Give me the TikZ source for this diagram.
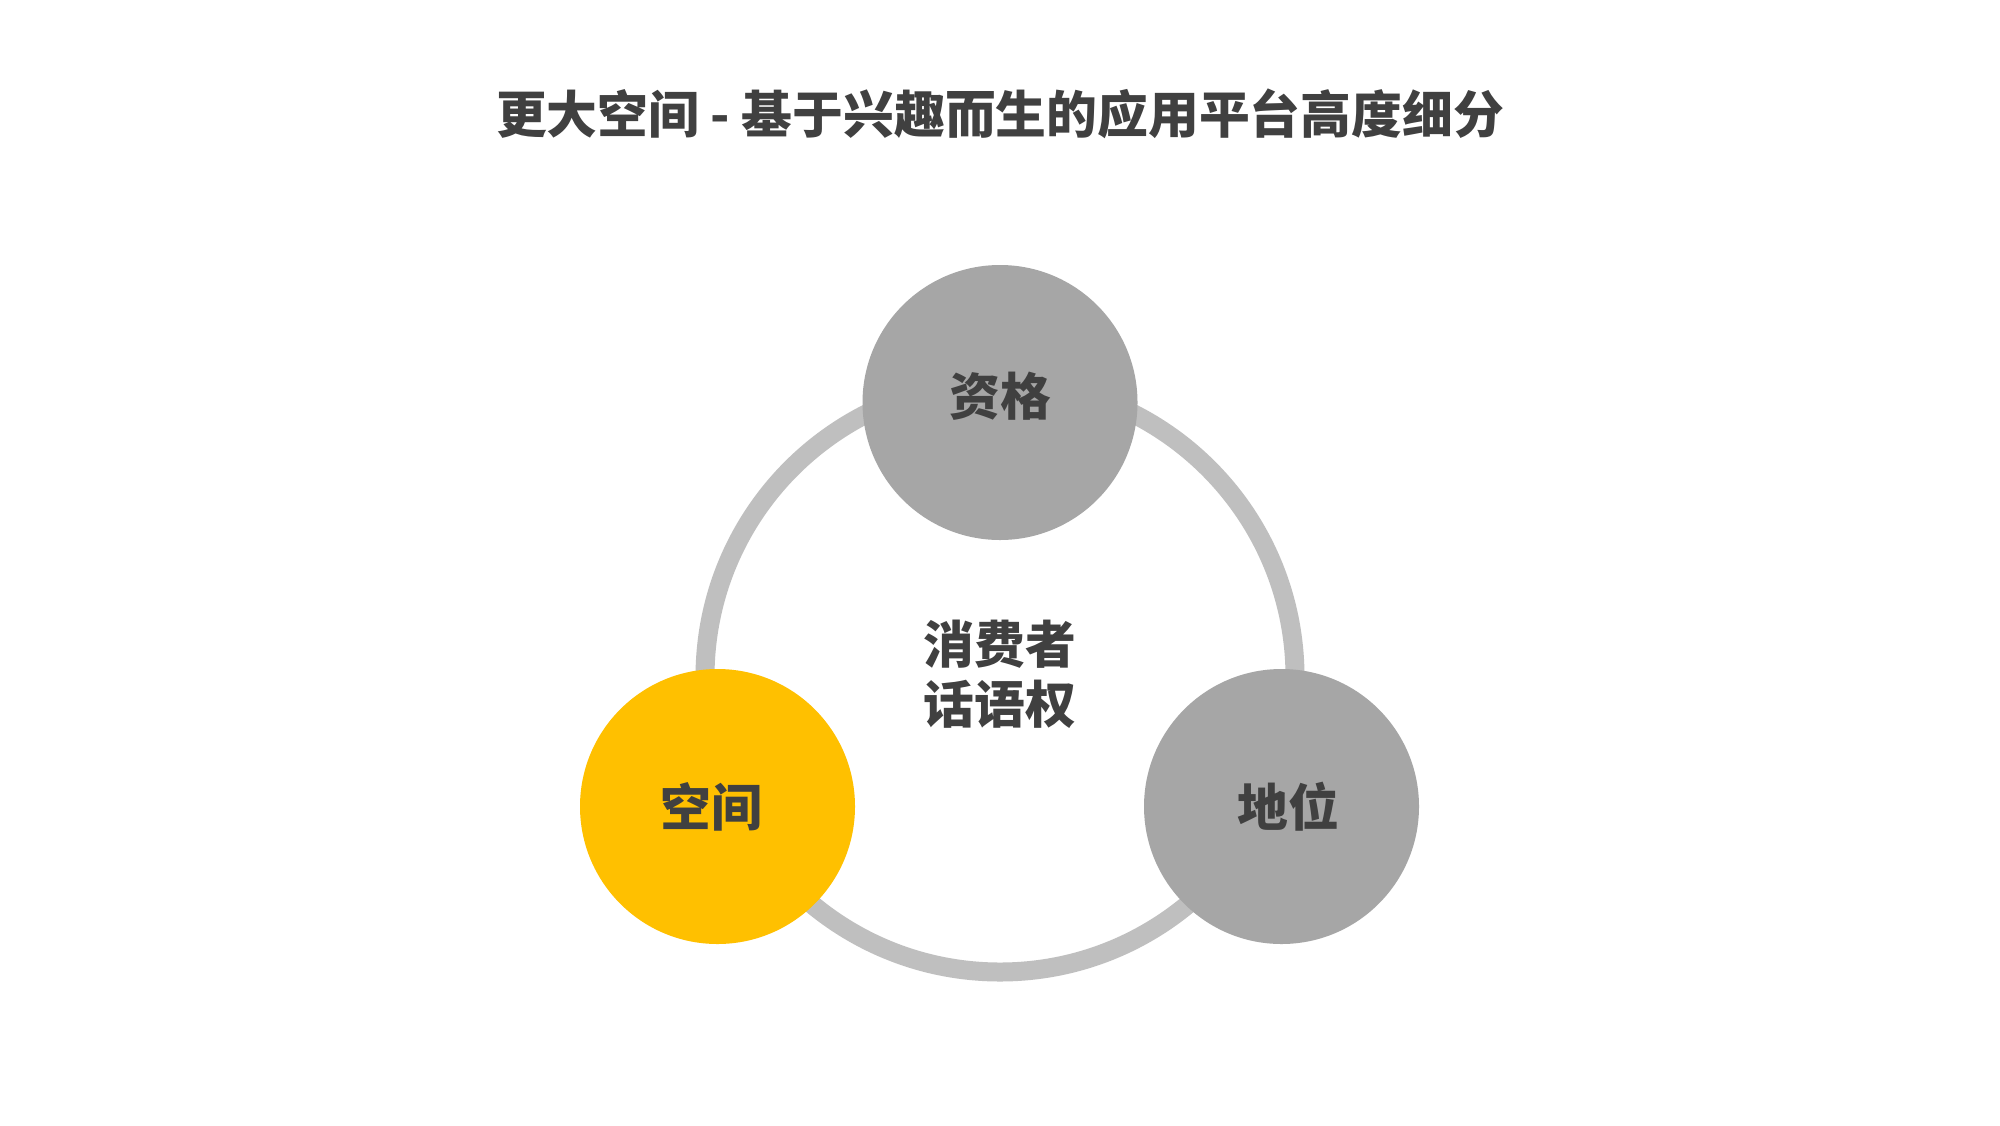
\documentclass[tikz,border=0pt]{standalone}
\usepackage{fontspec}
\newfontfamily\cjk{Noto Sans CJK SC}
\definecolor{txt}{HTML}{404040}
\definecolor{ringc}{HTML}{BFBFBF}
\definecolor{greyc}{HTML}{A6A6A6}
\definecolor{yellowc}{HTML}{FFC000}
\tikzset{
  lbl/.style={font=\cjk\bfseries\fontsize{25.4pt}{30pt}\selectfont, text=txt, inner sep=0pt},
  bubble/.style={circle, minimum size=137.5pt, inner sep=0pt, draw=none},
}
\begin{document}
\begin{tikzpicture}[x=0.5pt,y=-0.5pt]
\fill[white] (0,0) rectangle (2000,1125);
\useasboundingbox (0,0) rectangle (2000,1125);
\node[lbl] (title) at (1000,114) {更大空间 - 基于兴趣而生的应用平台高度细分};
\node[circle, draw=ringc, line width=9.5pt, minimum size=295pt, inner sep=0pt] (ring) at (1000,677) {};
\node[bubble, fill=greyc] (top) at (1000,402.5) {};
\node[bubble, fill=yellowc] (left) at (717.5,806.5) {};
\node[bubble, fill=greyc] (right) at (1281.5,806.5) {};
\node[lbl] (ltop) at (1000,396) {资格};
\node[lbl] (lleft) at (711,807) {空间};
\node[lbl] (lright) at (1288,807) {地位};
\node[lbl, align=center] (center) at (1000,674) {消费者\\话语权};
\end{tikzpicture}
\end{document}
